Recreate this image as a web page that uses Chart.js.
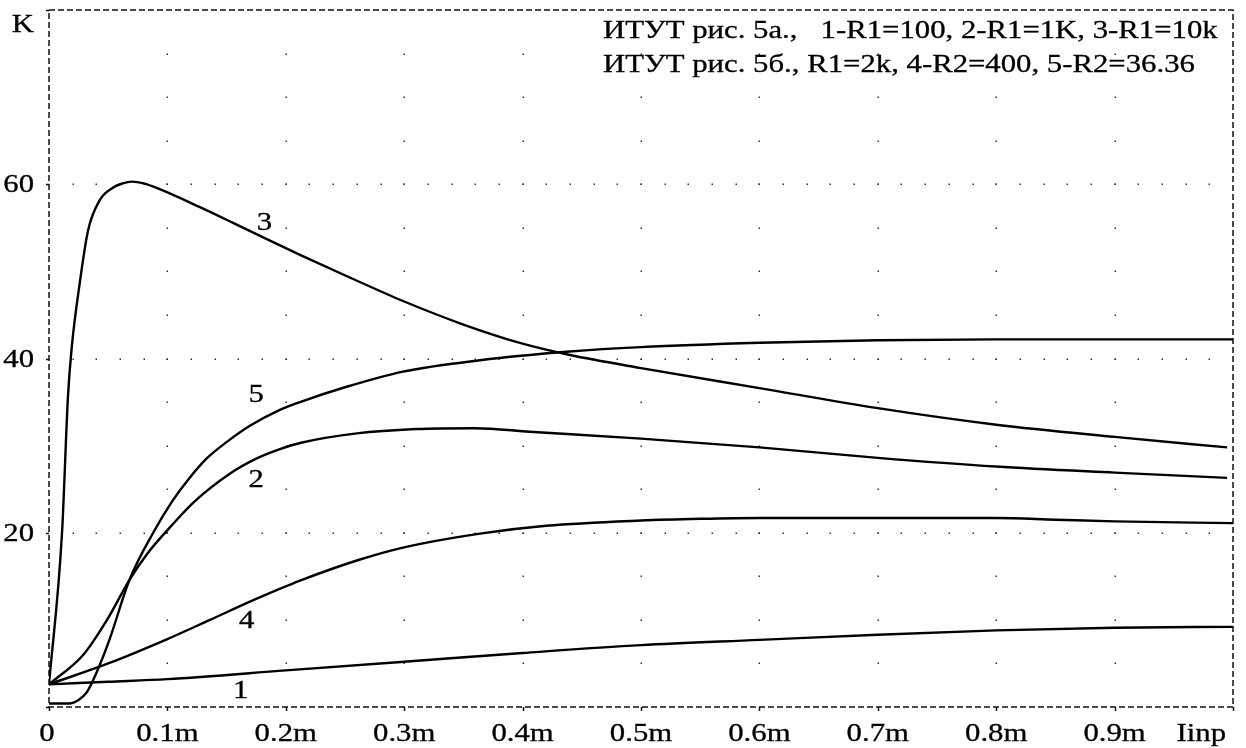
<!DOCTYPE html>
<html>
<head>
<meta charset="utf-8">
<script src="https://cdn.jsdelivr.net/npm/chart.js@4.4.1/dist/chart.umd.min.js"></script>
<style>
  html, body { margin: 0; padding: 0; background: #fff; }
  #wrap { width: 1246px; height: 748px; }
</style>
</head>
<body>
<div id="wrap"><canvas id="c" width="1246" height="748"></canvas></div>
<script>
// Gain K versus input current Iinp (mA); curves 1-5
const curve1X = [0, 0.05, 0.1, 0.2, 0.3, 0.4, 0.5, 0.6, 0.7, 0.8, 0.9, 1.0];
const curve1K = [2.6, 2.9, 3.2, 4.2, 5.2, 6.2, 7.1, 7.7, 8.3, 8.8, 9.1, 9.2];

const curve2X = [0, 0.029, 0.049, 0.068, 0.083, 0.104, 0.123, 0.153, 0.175, 0.195, 0.212, 0.26, 0.31, 0.36, 0.406, 0.5, 0.6, 0.7, 0.8, 0.9, 0.995];
const curve2K = [2.6, 6.0, 10.0, 14.6, 17.6, 20.9, 23.6, 26.8, 28.5, 29.6, 30.3, 31.4, 31.9, 32.0, 31.6, 30.8, 29.8, 28.6, 27.6, 26.9, 26.3];

const curve3X = [0, 0.011, 0.016, 0.019, 0.026, 0.033, 0.043, 0.054, 0.060, 0.070, 0.080, 0.094, 0.127, 0.155, 0.184, 0.212, 0.254, 0.299, 0.35, 0.4, 0.44, 0.5, 0.6, 0.7, 0.8, 0.9, 0.995];
const curve3K = [2.6, 20.0, 35.6, 41.0, 48.7, 54.7, 58.2, 59.6, 60.0, 60.3, 60.1, 59.4, 57.4, 55.6, 53.7, 51.9, 49.3, 46.6, 43.9, 41.7, 40.4, 38.9, 36.6, 34.3, 32.4, 31.0, 29.8];

const curve4X = [0, 0.05, 0.1, 0.136, 0.175, 0.212, 0.262, 0.299, 0.364, 0.42, 0.5, 0.55, 0.6, 0.7, 0.8, 0.85, 0.9, 1.0];
const curve4K = [2.6, 5.0, 7.8, 10.0, 12.4, 14.5, 16.9, 18.3, 19.9, 20.8, 21.4, 21.6, 21.7, 21.7, 21.7, 21.5, 21.3, 21.1];

const curve5X = [0, 0.017, 0.025, 0.032, 0.040, 0.051, 0.068, 0.088, 0.104, 0.117, 0.133, 0.150, 0.170, 0.195, 0.212, 0.25, 0.299, 0.364, 0.44, 0.5, 0.6, 0.7, 0.8, 0.9, 1.0];
const curve5K = [0.4, 0.4, 0.8, 1.7, 3.9, 7.7, 14.6, 20.0, 23.6, 26.0, 28.5, 30.4, 32.3, 34.1, 35.0, 36.7, 38.5, 39.8, 40.8, 41.3, 41.8, 42.1, 42.2, 42.2, 42.2];

// Curve numbers placed next to their lines (data coordinates)
const curveNames = ['1', '2', '3', '4', '5'];
const curveNameX = [0.162, 0.175, 0.182, 0.167, 0.175];
const curveNameK = [2.0, 26.2, 55.7, 10.0, 35.9];

// Tick labels
const xTickLabels = ['0', '0.1m', '0.2m', '0.3m', '0.4m', '0.5m', '0.6m', '0.7m', '0.8m', '0.9m', ''];
const yTickLabels = ['', '20', '40', '60', ''];
const xAxisTitle = 'Iinp';
const yAxisTitle = 'K';

const captionLines = [
  'ИТУТ рис. 5а.,   1-R1=100, 2-R1=1K, 3-R1=10k',
  'ИТУТ рис. 5б., R1=2k, 4-R2=400, 5-R2=36.36'
];

const FONT = '25px "Liberation Serif", "Times New Roman", serif';
const STRETCH = 1.23;

function toPoints(xs, ks) { return xs.map((x, i) => ({ x: x, y: ks[i] })); }

function wideText(ctx, str, x, y, align, baseline) {
  ctx.save();
  ctx.font = FONT;
  ctx.fillStyle = '#000';
  ctx.strokeStyle = '#000';
  ctx.lineWidth = 0.3;
  ctx.textAlign = align;
  ctx.textBaseline = baseline || 'alphabetic';
  ctx.translate(x, y);
  ctx.scale(STRETCH, 1);
  ctx.fillText(str, 0, 0);
  ctx.strokeText(str, 0, 0);
  ctx.restore();
}

const frame = {
  id: 'frame',
  beforeDatasetsDraw(chart) {
    const ctx = chart.ctx;
    const a = chart.chartArea;
    const xs = chart.scales.x, ys = chart.scales.y;
    ctx.save();
    // dotted grid: along horizontal rules every 0.02, along vertical rules every 5
    ctx.fillStyle = '#333';
    ys.ticks.forEach(t => {
      if (t.value <= ys.min || t.value >= ys.max) return;
      const py = Math.round(ys.getPixelForValue(t.value));
      for (let v = 0.02; v < xs.max - 1e-6; v += 0.02) {
        const px = Math.round(xs.getPixelForValue(v));
        ctx.fillRect(px - 0.5, py - 0.5, 1.5, 1.5);
      }
    });
    xs.ticks.forEach(t => {
      if (t.value <= xs.min || t.value >= xs.max - 1e-6) return;
      const px = Math.round(xs.getPixelForValue(t.value));
      for (let k = 5; k < ys.max; k += 5) {
        const py = Math.round(ys.getPixelForValue(k));
        ctx.fillRect(px - 0.5, py - 0.5, 1.5, 1.5);
      }
    });
    // dashed frame
    ctx.strokeStyle = '#111';
    ctx.lineWidth = 1.5;
    ctx.setLineDash([6, 3]);
    ctx.strokeRect(a.left, a.top, a.right - a.left, a.bottom - a.top);
    ctx.setLineDash([]);
    // small tick marks
    ctx.lineWidth = 1.5;
    ctx.beginPath();
    xs.ticks.forEach(t => {
      const px = Math.round(xs.getPixelForValue(t.value)) + 0.5;
      ctx.moveTo(px, a.bottom);
      ctx.lineTo(px, a.bottom + 4);
    });
    ys.ticks.forEach(t => {
      const py = Math.round(ys.getPixelForValue(t.value)) + 0.5;
      ctx.moveTo(a.left - 3, py);
      ctx.lineTo(a.left, py);
    });
    ctx.stroke();
    ctx.restore();

    // tick labels
    xs.ticks.forEach((t, i) => {
      const lbl = xTickLabels[i];
      if (lbl) wideText(ctx, lbl, xs.getPixelForValue(t.value) - (i === 0 ? 2 : 0), a.bottom + 34, 'center');
    });
    ys.ticks.forEach((t, i) => {
      const lbl = yTickLabels[i];
      if (lbl) wideText(ctx, lbl, a.left - 15, ys.getPixelForValue(t.value) + 8, 'right');
    });
    wideText(ctx, yAxisTitle, a.left - 15, a.top + 22, 'right');
    wideText(ctx, xAxisTitle, a.right - 7, a.bottom + 34, 'right');
  },
  afterDatasetsDraw(chart) {
    const ctx = chart.ctx;
    const xs = chart.scales.x, ys = chart.scales.y;
    curveNames.forEach((n, i) => {
      wideText(ctx, n, xs.getPixelForValue(curveNameX[i]), ys.getPixelForValue(curveNameK[i]) + 8, 'center');
    });
    const a = chart.chartArea;
    captionLines.forEach((line, i) => {
      wideText(ctx, line, 603, a.top + 28 + i * 34, 'left');
    });
  }
};

const lineStyle = {
  borderColor: '#000',
  borderWidth: 2.4,
  pointRadius: 0,
  fill: false,
  cubicInterpolationMode: 'monotone'
};

new Chart(document.getElementById('c'), {
  type: 'line',
  data: {
    datasets: [
      Object.assign({ label: '1', data: toPoints(curve1X, curve1K) }, lineStyle),
      Object.assign({ label: '2', data: toPoints(curve2X, curve2K) }, lineStyle),
      Object.assign({ label: '3', data: toPoints(curve3X, curve3K) }, lineStyle),
      Object.assign({ label: '4', data: toPoints(curve4X, curve4K) }, lineStyle),
      Object.assign({ label: '5', data: toPoints(curve5X, curve5K) }, lineStyle)
    ]
  },
  options: {
    responsive: false,
    animation: false,
    devicePixelRatio: 1,
    layout: { padding: { left: 49, right: 13, top: 10, bottom: 41 } },
    plugins: { legend: { display: false }, tooltip: { enabled: false } },
    scales: {
      x: {
        type: 'linear', min: 0, max: 1,
        ticks: { display: false, stepSize: 0.1 },
        grid: { display: false, drawTicks: false },
        border: { display: false },
        afterFit(s) { s.height = 0; }
      },
      y: {
        type: 'linear', min: 0, max: 80,
        ticks: { display: false, stepSize: 20 },
        grid: { display: false, drawTicks: false },
        border: { display: false },
        afterFit(s) { s.width = 0; }
      }
    }
  },
  plugins: [frame]
});
</script>
</body>
</html>
